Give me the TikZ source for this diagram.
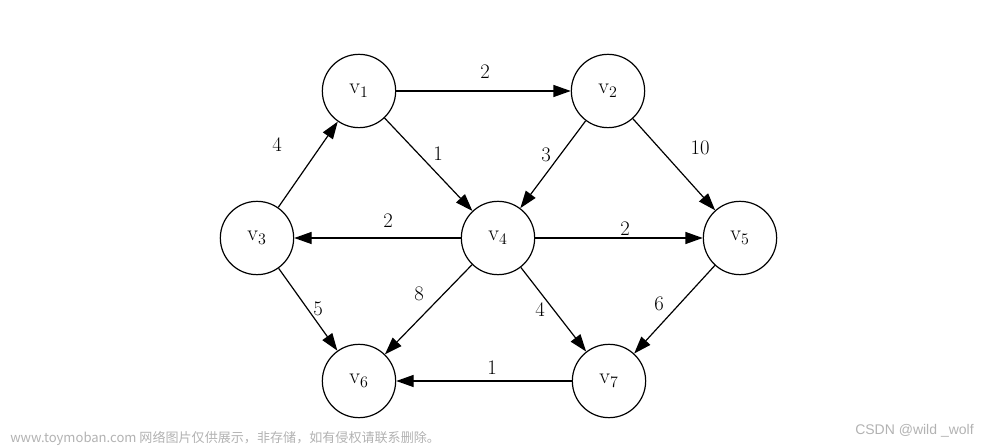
\documentclass[tikz,border=0pt]{standalone}
\usepackage{fontspec}
\newfontfamily\cjkfont{Noto Sans CJK SC}
\newfontfamily\wmsans{Liberation Sans}
\usetikzlibrary{arrows.meta}
\begin{document}
\begin{tikzpicture}[x=0.75pt,y=-0.75pt,
  vert/.style={circle,draw,line width=0.9pt,minimum size=55pt,inner sep=0pt,font=\fontsize{16.5}{16.5}\selectfont},
  edge/.style={line width=0.9pt,-{Triangle[length=13pt,width=9pt]}},
  wt/.style={font=\fontsize{15.5}{15.5}\selectfont},
  wm/.style={text=black!30,inner sep=0pt}]
\useasboundingbox (0,0) rectangle (1000,448);
\node[vert] (v1) at (359,91) {v$_1$};
\node[vert] (v2) at (608,91) {v$_2$};
\node[vert] (v3) at (257,238) {v$_3$};
\node[vert] (v4) at (498,238) {v$_4$};
\node[vert] (v5) at (740,238) {v$_5$};
\node[vert] (v6) at (359,381) {v$_6$};
\node[vert] (v7) at (609,381) {v$_7$};
\draw[edge] (v1) -- (v2);
\draw[edge] (v3) -- (v1);
\draw[edge] (v1) -- (v4);
\draw[edge] (v2) -- (v4);
\draw[edge] (v2) -- (v5);
\draw[edge] (v4) -- (v3);
\draw[edge] (v4) -- (v5);
\draw[edge] (v3) -- (v6);
\draw[edge] (v4) -- (v6);
\draw[edge] (v4) -- (v7);
\draw[edge] (v5) -- (v7);
\draw[edge] (v7) -- (v6);
\node[wt] (w12) at (485,72) {2};
\node[wt] (w31) at (277,145) {4};
\node[wt] (w14) at (438,154) {1};
\node[wt] (w24) at (546,155) {3};
\node[wt] (w25) at (700,148) {10};
\node[wt] (w43) at (388,221) {2};
\node[wt] (w45) at (625,229) {2};
\node[wt] (w36) at (318,309) {5};
\node[wt] (w46) at (419,294) {8};
\node[wt] (w47) at (540,310) {4};
\node[wt] (w57) at (659,304) {6};
\node[wt] (w76) at (492,368) {1};
\node[wm,anchor=west,font=\cjkfont\fontsize{9.8}{9.8}\selectfont] (wm1) at (10,438) {www.toymoban.com 网络图片仅供展示，非存储，如有侵权请联系删除。};
\node[wm,anchor=west,font=\wmsans\fontsize{10.5}{10.5}\selectfont] (wm2) at (855,431) {CSDN @wild \_wolf};
\end{tikzpicture}
\end{document}
